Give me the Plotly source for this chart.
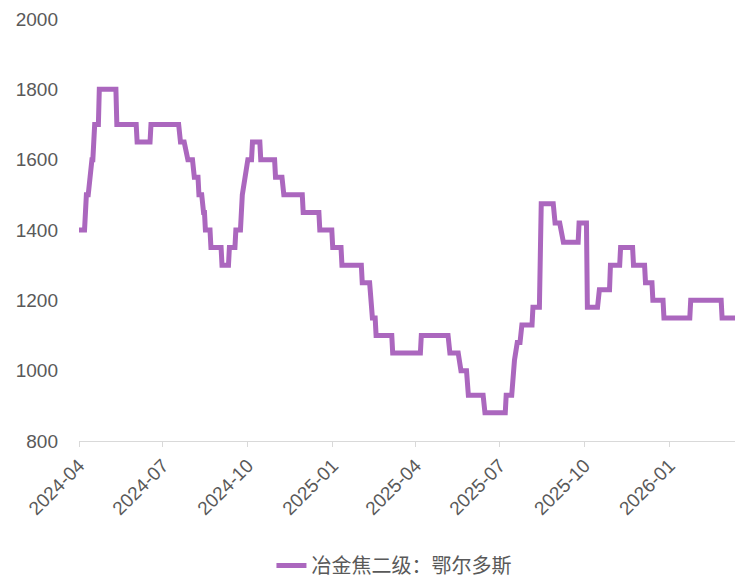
import plotly.graph_objects as go

# 冶金焦二级：鄂尔多斯 — price points (date, value)
dates = [
    "2024-04-01", "2024-04-07", "2024-04-09", "2024-04-11", "2024-04-15", "2024-04-16",
    "2024-04-18", "2024-04-22", "2024-04-23", "2024-05-11", "2024-05-12", "2024-06-02",
    "2024-06-03", "2024-06-17", "2024-06-18", "2024-07-18", "2024-07-20", "2024-07-24",
    "2024-07-28", "2024-08-02", "2024-08-04", "2024-08-08", "2024-08-09", "2024-08-12",
    "2024-08-14", "2024-08-15", "2024-08-16", "2024-08-21", "2024-08-22", "2024-09-02",
    "2024-09-03", "2024-09-10", "2024-09-11", "2024-09-17", "2024-09-18", "2024-09-23",
    "2024-09-25", "2024-10-01", "2024-10-05", "2024-10-06", "2024-10-14", "2024-10-15",
    "2024-10-30", "2024-10-31", "2024-11-07", "2024-11-09", "2024-11-29", "2024-11-30",
    "2024-12-17", "2024-12-18", "2024-12-31", "2025-01-01", "2025-01-10", "2025-01-11",
    "2025-02-01", "2025-02-02", "2025-02-10", "2025-02-11", "2025-02-12", "2025-02-13",
    "2025-02-16", "2025-02-17", "2025-03-06", "2025-03-07", "2025-04-06", "2025-04-07",
    "2025-05-06", "2025-05-08", "2025-05-17", "2025-05-20", "2025-05-26", "2025-05-28",
    "2025-06-13", "2025-06-15", "2025-07-07", "2025-07-08", "2025-07-14", "2025-07-17",
    "2025-07-20", "2025-07-23", "2025-07-25", "2025-08-05", "2025-08-06", "2025-08-13",
    "2025-08-15", "2025-08-28", "2025-08-30", "2025-09-04", "2025-09-08", "2025-09-24",
    "2025-09-25", "2025-10-03", "2025-10-04", "2025-10-15", "2025-10-17", "2025-10-28",
    "2025-10-29", "2025-11-08", "2025-11-09", "2025-11-22", "2025-11-23", "2025-12-05",
    "2025-12-06", "2025-12-13", "2025-12-14", "2025-12-25", "2025-12-26", "2026-01-23",
    "2026-01-24", "2026-02-26", "2026-02-27", "2026-03-13",
]
values = [
    1400, 1400, 1500, 1500, 1600, 1600,
    1700, 1700, 1800, 1800, 1700, 1700,
    1650, 1650, 1700, 1700, 1650, 1650,
    1600, 1600, 1550, 1550, 1500, 1500,
    1450, 1450, 1400, 1400, 1350, 1350,
    1300, 1300, 1350, 1350, 1400, 1400,
    1500, 1600, 1600, 1650, 1650, 1600,
    1600, 1550, 1550, 1500, 1500, 1450,
    1450, 1400, 1400, 1350, 1350, 1300,
    1300, 1250, 1250, 1200, 1200, 1150,
    1150, 1100, 1100, 1050, 1050, 1100,
    1100, 1050, 1050, 1000, 1000, 930,
    930, 880, 880, 930, 930, 1030,
    1080, 1080, 1130, 1130, 1180, 1180,
    1475, 1475, 1420, 1420, 1365, 1365,
    1420, 1420, 1180, 1180, 1230, 1230,
    1300, 1300, 1350, 1350, 1300, 1300,
    1250, 1250, 1200, 1200, 1150, 1150,
    1200, 1200, 1150, 1150,
]
series_name = "冶金焦二级：鄂尔多斯"
y_ticks = [800, 1000, 1200, 1400, 1600, 1800, 2000]

fig = go.Figure()
fig.add_trace(go.Scatter(
    x=dates, y=values, mode="lines", name=series_name,
    line=dict(color="#AB67BE", width=5),
))

fig.update_layout(
    width=735, height=583,
    margin=dict(l=79, r=0, t=19, b=142, autoexpand=False),
    plot_bgcolor="white", paper_bgcolor="white",
    font=dict(family="Liberation Sans, Arial, sans-serif", color="#595959", size=19),
    showlegend=True,
    legend=dict(
        orientation="h", xref="container", yref="container",
        x=0.536, xanchor="center", y=0.03, yanchor="middle",
        font=dict(family="Noto Sans CJK SC", size=20, color="#595959"),
    ),
    xaxis=dict(
        type="date",
        range=["2024-04-01", "2026-03-13"],
        tick0="2024-04-01", dtick="M3", tickformat="%Y-%m",
        tickangle=-45, automargin=False,
        showgrid=False, zeroline=False,
        showline=True, linecolor="#D9D9D9", linewidth=1,
        ticks="outside", ticklen=5, tickcolor="#D9D9D9",
        tickfont=dict(size=19, color="#595959"),
    ),
    yaxis=dict(
        range=[800, 2000], tickvals=y_ticks, automargin=False,
        showgrid=False, zeroline=False, showline=False,
        ticks="", ticklabelstandoff=20,
        tickfont=dict(size=19, color="#595959"),
    ),
)

fig.write_html(
    "out.html",
    config={"displayModeBar": False},
    post_script="document.body.style.margin='0px';document.body.style.overflow='hidden';",
)
